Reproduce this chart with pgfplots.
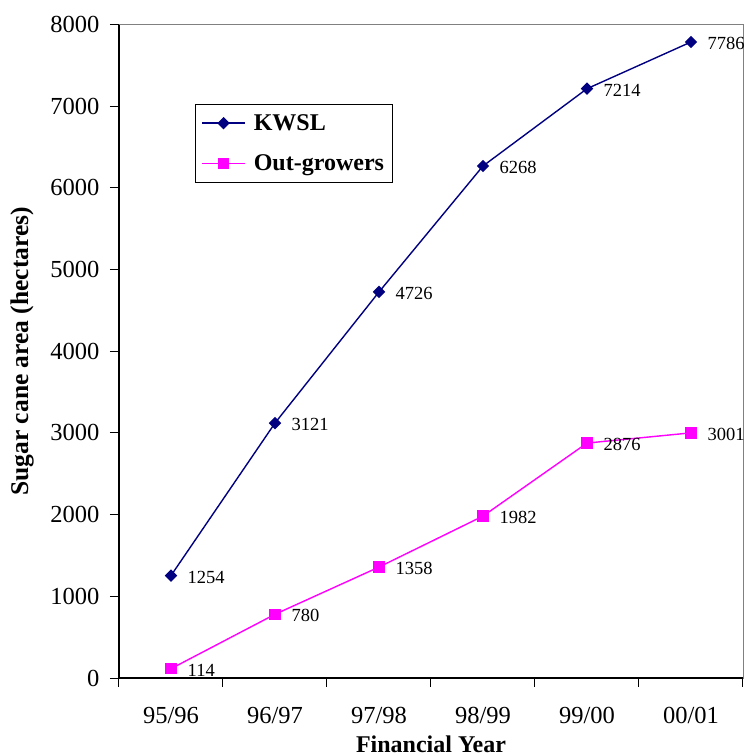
\documentclass[border=0pt]{standalone}
\usepackage{fontspec}
\setmainfont{Liberation Serif}
\usepackage{pgfplots}
\pgfplotsset{compat=1.18}

\definecolor{kwsl}{RGB}{0,0,128}
\definecolor{outg}{RGB}{255,0,255}
\definecolor{framegray}{RGB}{128,128,128}

\begin{document}
\begin{tikzpicture}
\useasboundingbox (0,0) rectangle (744pt,756pt);
\begin{axis}[
  at={(119pt,78pt)}, anchor=south west,
  scale only axis, width=624pt, height=653.5pt,
  clip=false,
  xmin=-0.5, xmax=5.5, ymin=0, ymax=8000,
  axis line style={draw=framegray, line width=0.8pt},
  tick align=outside, xtick pos=bottom, ytick pos=left,
  major tick length=9pt,
  tick style={draw=black, line width=1pt},
  xtick={-0.5,0.5,1.5,2.5,3.5,4.5,5.5}, xticklabels={},
  extra x ticks={0,1,2,3,4,5},
  extra x tick labels={95/96,96/97,97/98,98/99,99/00,00/01},
  extra x tick style={major tick length=0pt},
  ytick={0,1000,...,8000},
  scaled ticks=false,
  /pgf/number format/1000 sep={},
  /pgf/number format/assume math mode=true,
  ticklabel style={font=\fontsize{24.5}{28}\selectfont},
  xticklabel style={yshift=-26pt},
  yticklabel style={xshift=-7pt},
  xlabel={Financial Year},
  ylabel={Sugar cane area (hectares)},
  xlabel style={font=\fontsize{24}{28}\selectfont\bfseries,
    at={(axis description cs:0.5,0)}, anchor=center, yshift=-66pt},
  ylabel style={font=\fontsize{25.5}{29}\selectfont\bfseries,
    at={(axis description cs:-0.1554,0.5)}, anchor=center},
  legend style={at={(axis description cs:0.1218,0.8783)}, anchor=north west,
    draw=black, line width=0.8pt, fill=white,
    font=\fontsize{24}{28}\selectfont\bfseries,
    inner xsep=6pt, inner ysep=8pt, row sep=19pt},
  legend cell align=left,
  legend image code/.code={%
    \draw[mark repeat=2,mark phase=2,#1]
      plot coordinates {(0pt,0pt) (21.5pt,0pt) (43pt,0pt)};
    \path (49pt,0pt);},
  nodes near coords,
  every node near coord/.append style={
    font=\fontsize{18.5}{22}\selectfont, text=black,
    anchor=west, inner sep=0pt, xshift=16pt, yshift=-1.5pt},
]
\addplot[color=kwsl, line width=1.4pt, mark=square*,
  mark options={rotate=45, solid, fill=kwsl}, mark size=3.7pt]
  coordinates {(0,1254) (1,3121) (2,4726) (3,6268) (4,7214) (5,7786)};
\addlegendentry{KWSL}
\addplot[color=outg, line width=1.4pt, mark=square*,
  mark options={solid, fill=outg}, mark size=5pt]
  coordinates {(0,114) (1,780) (2,1358) (3,1982) (4,2876) (5,3001)};
\addlegendentry{Out-growers}
\draw[black, line width=1.3pt]
  (rel axis cs:0,1) -- (rel axis cs:0,0) -- (rel axis cs:1,0);
\end{axis}
\end{tikzpicture}
\end{document}
